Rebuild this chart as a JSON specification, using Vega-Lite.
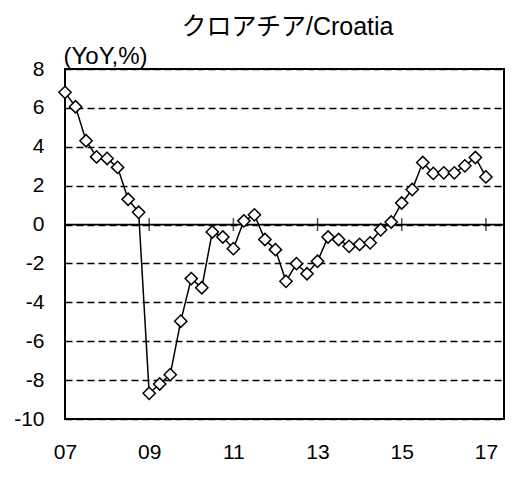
{
  "$schema": "https://vega.github.io/schema/vega-lite/v6.json",
  "autosize": {"type": "none"},
  "width": 439,
  "height": 350,
  "padding": {"left": 65, "top": 69, "right": 25, "bottom": 83},
  "background": "white",
  "title": {
    "text": "クロアチア/Croatia",
    "font": "Liberation Sans, Noto Sans CJK JP, sans-serif",
    "fontSize": 25,
    "fontWeight": "normal",
    "color": "black",
    "anchor": "middle",
    "frame": "group",
    "baseline": "alphabetic",
    "offset": -16,
    "dx": 3
  },
  "config": {
    "view": {"stroke": "black", "strokeWidth": 2},
    "font": "Liberation Sans, Noto Sans CJK JP, sans-serif",
    "axis": {
      "labelFont": "Liberation Sans",
      "labelFontSize": 21,
      "labelColor": "black",
      "labelOverlap": false,
      "labelFlush": false,
      "titleFont": "Liberation Sans",
      "titleFontSize": 24,
      "titleFontWeight": "normal",
      "titleColor": "black",
      "domain": false,
      "ticks": false,
      "tickSize": 0
    }
  },
  "datasets": {
    "cpi": [
      {"t": 2007.00, "v": 6.80},
      {"t": 2007.25, "v": 6.06},
      {"t": 2007.50, "v": 4.31},
      {"t": 2007.75, "v": 3.48},
      {"t": 2008.00, "v": 3.40},
      {"t": 2008.25, "v": 2.94},
      {"t": 2008.50, "v": 1.30},
      {"t": 2008.75, "v": 0.63},
      {"t": 2009.00, "v": -8.68},
      {"t": 2009.25, "v": -8.20},
      {"t": 2009.50, "v": -7.72},
      {"t": 2009.75, "v": -4.97},
      {"t": 2010.00, "v": -2.78},
      {"t": 2010.25, "v": -3.25},
      {"t": 2010.50, "v": -0.38},
      {"t": 2010.75, "v": -0.64},
      {"t": 2011.00, "v": -1.24},
      {"t": 2011.25, "v": 0.19},
      {"t": 2011.50, "v": 0.50},
      {"t": 2011.75, "v": -0.77},
      {"t": 2012.00, "v": -1.29},
      {"t": 2012.25, "v": -2.92},
      {"t": 2012.50, "v": -2.01},
      {"t": 2012.75, "v": -2.53},
      {"t": 2013.00, "v": -1.89},
      {"t": 2013.25, "v": -0.64},
      {"t": 2013.50, "v": -0.77},
      {"t": 2013.75, "v": -1.12},
      {"t": 2014.00, "v": -1.02},
      {"t": 2014.25, "v": -0.94},
      {"t": 2014.50, "v": -0.27},
      {"t": 2014.75, "v": 0.13},
      {"t": 2015.00, "v": 1.11},
      {"t": 2015.25, "v": 1.80},
      {"t": 2015.50, "v": 3.19},
      {"t": 2015.75, "v": 2.63},
      {"t": 2016.00, "v": 2.66},
      {"t": 2016.25, "v": 2.66},
      {"t": 2016.50, "v": 3.02},
      {"t": 2016.75, "v": 3.45},
      {"t": 2017.00, "v": 2.45}
    ],
    "ticks": [
      {"t": 2009, "v": 0},
      {"t": 2011, "v": 0},
      {"t": 2013, "v": 0},
      {"t": 2015, "v": 0},
      {"t": 2017, "v": 0}
    ],
    "zero": [{"v": 0}]
  },
  "layer": [
    {
      "data": {"name": "cpi"},
      "mark": {"type": "line", "color": "black", "strokeWidth": 1.5},
      "encoding": {
        "x": {
          "field": "t", "type": "quantitative",
          "scale": {"domain": [2007, 2017.43], "nice": false, "zero": false},
          "axis": {
            "values": [2007, 2009, 2011, 2013, 2015, 2017],
            "labelExpr": "substring(toString(datum.value), 2, 4)",
            "labelPadding": 22,
            "grid": false,
            "title": null
          }
        },
        "y": {
          "field": "v", "type": "quantitative",
          "scale": {"domain": [-10, 8], "nice": false, "zero": false},
          "axis": {
            "values": [-10, -8, -6, -4, -2, 0, 2, 4, 6, 8],
            "tickCount": 10,
            "labelExpr": "toString(datum.value)",
            "labelPadding": 21,
            "grid": true,
            "gridColor": "black",
            "gridDash": [7, 4],
            "gridWidth": 1.5,
            "gridOpacity": 1,
            "title": "(YoY,%)",
            "titleAngle": 0,
            "titleAlign": "left",
            "titleBaseline": "alphabetic",
            "titleX": -2,
            "titleY": -6
          }
        }
      }
    },
    {
      "data": {"name": "zero"},
      "mark": {"type": "rule", "color": "black", "strokeWidth": 1.7},
      "encoding": {
        "y": {
          "field": "v", "type": "quantitative",
          "scale": {"domain": [-10, 8], "nice": false, "zero": false},
          "axis": {
            "values": [-10, -8, -6, -4, -2, 0, 2, 4, 6, 8],
            "tickCount": 10,
            "labelExpr": "toString(datum.value)",
            "labelPadding": 21,
            "grid": true,
            "gridColor": "black",
            "gridDash": [7, 4],
            "gridWidth": 1.5,
            "gridOpacity": 1,
            "title": "(YoY,%)",
            "titleAngle": 0,
            "titleAlign": "left",
            "titleBaseline": "alphabetic",
            "titleX": -2,
            "titleY": -6
          }
        }
      }
    },
    {
      "data": {"name": "ticks"},
      "mark": {"type": "tick", "orient": "vertical", "color": "black", "size": 13, "thickness": 1.5},
      "encoding": {
        "x": {
          "field": "t", "type": "quantitative",
          "scale": {"domain": [2007, 2017.43], "nice": false, "zero": false},
          "axis": {
            "values": [2007, 2009, 2011, 2013, 2015, 2017],
            "labelExpr": "substring(toString(datum.value), 2, 4)",
            "labelPadding": 22,
            "grid": false,
            "title": null
          }
        },
        "y": {
          "field": "v", "type": "quantitative",
          "scale": {"domain": [-10, 8], "nice": false, "zero": false},
          "axis": {
            "values": [-10, -8, -6, -4, -2, 0, 2, 4, 6, 8],
            "tickCount": 10,
            "labelExpr": "toString(datum.value)",
            "labelPadding": 21,
            "grid": true,
            "gridColor": "black",
            "gridDash": [7, 4],
            "gridWidth": 1.5,
            "gridOpacity": 1,
            "title": "(YoY,%)",
            "titleAngle": 0,
            "titleAlign": "left",
            "titleBaseline": "alphabetic",
            "titleX": -2,
            "titleY": -6
          }
        }
      }
    },
    {
      "data": {"name": "cpi"},
      "mark": {"type": "point", "shape": "diamond", "size": 150, "filled": true, "fill": "white", "stroke": "black", "strokeWidth": 1.5, "opacity": 1},
      "encoding": {
        "x": {
          "field": "t", "type": "quantitative",
          "scale": {"domain": [2007, 2017.43], "nice": false, "zero": false},
          "axis": {
            "values": [2007, 2009, 2011, 2013, 2015, 2017],
            "labelExpr": "substring(toString(datum.value), 2, 4)",
            "labelPadding": 22,
            "grid": false,
            "title": null
          }
        },
        "y": {
          "field": "v", "type": "quantitative",
          "scale": {"domain": [-10, 8], "nice": false, "zero": false},
          "axis": {
            "values": [-10, -8, -6, -4, -2, 0, 2, 4, 6, 8],
            "tickCount": 10,
            "labelExpr": "toString(datum.value)",
            "labelPadding": 21,
            "grid": true,
            "gridColor": "black",
            "gridDash": [7, 4],
            "gridWidth": 1.5,
            "gridOpacity": 1,
            "title": "(YoY,%)",
            "titleAngle": 0,
            "titleAlign": "left",
            "titleBaseline": "alphabetic",
            "titleX": -2,
            "titleY": -6
          }
        }
      }
    }
  ]
}
